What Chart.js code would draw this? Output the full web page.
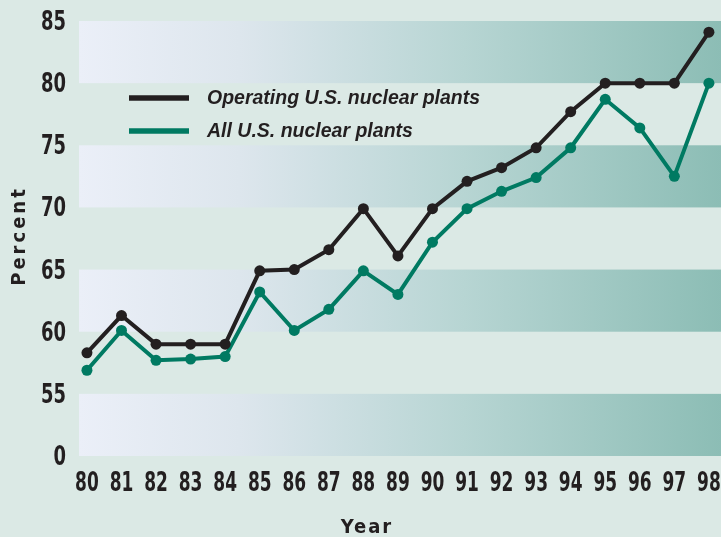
<!DOCTYPE html>
<html>
<head>
<meta charset="utf-8">
<script src="https://cdn.jsdelivr.net/npm/chart.js@4/dist/chart.umd.min.js"></script>
<style>
  html, body { margin: 0; padding: 0; background: #dbe9e5; }
  #wrap { width: 721px; height: 537px; position: relative; }
</style>
</head>
<body>
<div id="wrap"><canvas id="c" width="721" height="537"></canvas></div>
<script>
// ---- data ----
const years = [80, 81, 82, 83, 84, 85, 86, 87, 88, 89, 90, 91, 92, 93, 94, 95, 96, 97, 98];
const operatingPlants = [58.3, 61.3, 59.0, 59.0, 59.0, 64.9, 65.0, 66.6, 69.9, 66.1, 69.9, 72.1, 73.2, 74.8, 77.7, 80.0, 80.0, 80.0, 84.1];
const allPlants = [56.9, 60.1, 57.7, 57.8, 58.0, 63.2, 60.1, 61.8, 64.9, 63.0, 67.2, 69.9, 71.3, 72.4, 74.8, 78.7, 76.4, 72.5, 80.0];
const yTickValues = [50, 55, 60, 65, 70, 75, 80, 85];
const yTickLabels = ['0', '55', '60', '65', '70', '75', '80', '85'];
const bandRanges = [[80, 85], [70, 75], [60, 65], [50, 55]];
const seriesNames = ['Operating U.S. nuclear plants', 'All U.S. nuclear plants'];

const BLACK = '#231f20';
const GREEN = '#007a62';
const COND_FAMILY = "'Liberation Sans Narrow', 'DejaVu Sans Condensed', 'Liberation Sans', sans-serif";

function drawCondensed(ctx, text, x, y, align, sx) {
  ctx.save();
  ctx.translate(x, y);
  ctx.scale(sx, 1);
  ctx.textAlign = align;
  ctx.fillText(text, 0, 0);
  ctx.restore();
}

const bgPlugin = {
  id: 'bg',
  beforeDraw(chart) {
    const { ctx, chartArea, scales } = chart;
    ctx.save();
    ctx.fillStyle = '#dbe9e5';
    ctx.fillRect(0, 0, chart.width, chart.height);
    const g = ctx.createLinearGradient(chartArea.left, 0, chartArea.right, 0);
    g.addColorStop(0, '#ebeff8');
    g.addColorStop(0.25, '#dde6ed');
    g.addColorStop(0.6, '#b7d5d3');
    g.addColorStop(1, '#8cbdb5');
    ctx.fillStyle = g;
    bandRanges.forEach(([lo, hi]) => {
      const yTop = scales.y.getPixelForValue(hi);
      const yBot = scales.y.getPixelForValue(lo);
      ctx.fillRect(chartArea.left, yTop, chartArea.right - chartArea.left, yBot - yTop);
    });
    ctx.restore();
  },
  afterDraw(chart) {
    const { ctx, scales } = chart;
    ctx.save();
    // tick labels (condensed, drawn at the scales' own pixel positions)
    ctx.fillStyle = BLACK;
    ctx.font = "bold 27px " + COND_FAMILY;
    ctx.textBaseline = 'middle';
    scales.x.ticks.forEach(t => {
      drawCondensed(ctx, String(t.value), scales.x.getPixelForValue(t.value), 484, 'center', 0.7);
    });
    scales.y.ticks.forEach(t => {
      const lbl = yTickLabels[yTickValues.indexOf(t.value)];
      drawCondensed(ctx, lbl, 66, scales.y.getPixelForValue(t.value) + 2, 'right', 0.74);
    });
    // legend
    const items = [
      { y: 98, color: BLACK, text: seriesNames[0] },
      { y: 131, color: GREEN, text: seriesNames[1] }
    ];
    ctx.font = "italic bold 19.5px 'Liberation Sans', Arial, sans-serif";
    ctx.textBaseline = 'middle';
    ctx.textAlign = 'left';
    items.forEach(it => {
      ctx.strokeStyle = it.color;
      ctx.lineWidth = 5.5;
      ctx.beginPath();
      ctx.moveTo(129, it.y);
      ctx.lineTo(189, it.y);
      ctx.stroke();
      ctx.fillStyle = BLACK;
      ctx.fillText(it.text, 207, it.y + 1);
    });
    // axis titles
    ctx.fillStyle = BLACK;
    ctx.font = "bold 20px " + COND_FAMILY;
    ctx.textAlign = 'center';
    ctx.letterSpacing = '3px';
    ctx.save();
    ctx.translate(20, 237);
    ctx.rotate(-Math.PI / 2);
    ctx.fillText('Percent', 1, 0);
    ctx.restore();
    ctx.letterSpacing = '2px';
    ctx.fillText('Year', 367, 528);
    ctx.restore();
  }
};

new Chart(document.getElementById('c'), {
  type: 'line',
  data: {
    datasets: [
      {
        label: seriesNames[0],
        data: years.map((x, i) => ({ x, y: operatingPlants[i] })),
        borderColor: BLACK, backgroundColor: BLACK,
        borderWidth: 4, pointRadius: 5.5, pointBorderWidth: 0, tension: 0, clip: false
      },
      {
        label: seriesNames[1],
        data: years.map((x, i) => ({ x, y: allPlants[i] })),
        borderColor: GREEN, backgroundColor: GREEN,
        borderWidth: 4, pointRadius: 5.5, pointBorderWidth: 0, tension: 0, clip: false
      }
    ]
  },
  options: {
    responsive: false,
    animation: false,
    devicePixelRatio: 1,
    layout: { autoPadding: false, padding: { top: 21, right: 0, left: 0, bottom: 0 } },
    plugins: { legend: { display: false }, tooltip: { enabled: false } },
    scales: {
      x: {
        type: 'linear', min: 79.77, max: 98.35,
        grid: { display: false, drawTicks: false },
        border: { display: false },
        afterBuildTicks: s => { s.ticks = years.map(v => ({ value: v })); },
        afterFit: s => { s.height = 81; },
        ticks: { display: false }
      },
      y: {
        type: 'linear', min: 50, max: 85,
        grid: { display: false, drawTicks: false },
        border: { display: false },
        afterBuildTicks: s => { s.ticks = yTickValues.map(v => ({ value: v })); },
        afterFit: s => { s.width = 79; },
        ticks: { display: false }
      }
    }
  },
  plugins: [bgPlugin]
});
</script>
</body>
</html>
